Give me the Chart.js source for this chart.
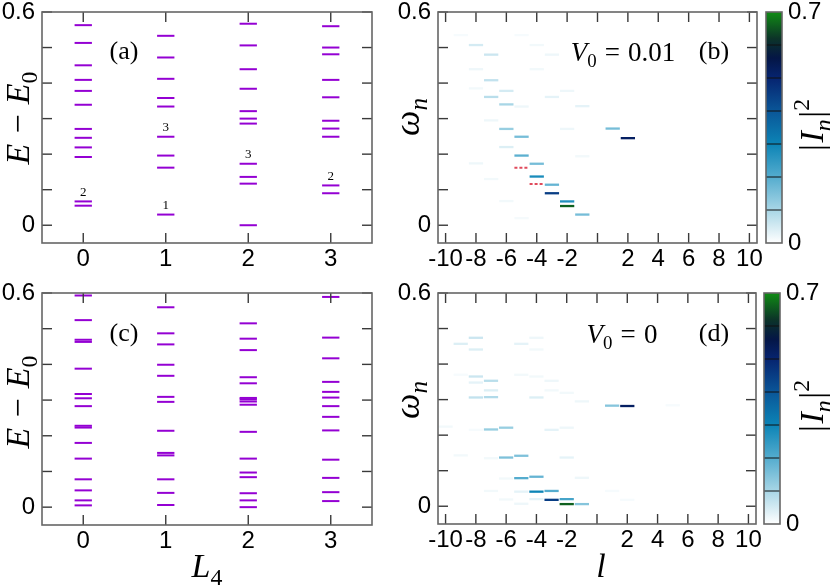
<!DOCTYPE html>
<html>
<head>
<meta charset="utf-8">
<script src="https://cdn.jsdelivr.net/npm/chart.js@4"></script>
<style>
  html, body { margin: 0; padding: 0; background: #fff; }
  #wrap { position: relative; width: 830px; height: 585px; overflow: hidden; background: #fff; }
  canvas { position: absolute; }
</style>
</head>
<body>
<div id="wrap">
  <canvas id="pa"></canvas>
  <canvas id="pb"></canvas>
  <canvas id="cb1"></canvas>
  <canvas id="pc"></canvas>
  <canvas id="pd"></canvas>
  <canvas id="cb2"></canvas>
</div>
<script>
// --- panel (a): E - E0 per L4, V0 = 0.01
const levelsA_L0 = [0.563, 0.513, 0.450, 0.409, 0.378, 0.339, 0.271, 0.246, 0.219, 0.192, 0.067, 0.055];
const levelsA_L1 = [0.533, 0.472, 0.412, 0.358, 0.334, 0.249, 0.196, 0.162, 0.030];
const levelsA_L2 = [0.567, 0.506, 0.439, 0.384, 0.321, 0.300, 0.286, 0.173, 0.136, 0.117, 0.000];
const levelsA_L3 = [0.560, 0.500, 0.481, 0.409, 0.360, 0.294, 0.272, 0.249, 0.112, 0.090];
// degeneracy labels written above some levels in (a)
const degL4 = [0, 1, 1, 2, 3];
const degE = [0.067, 0.030, 0.249, 0.173, 0.112];
const degText = ["2", "1", "3", "3", "2"];

// --- panel (c): V0 = 0
const levelsC_L0 = [0.593, 0.524, 0.469, 0.463, 0.388, 0.317, 0.305, 0.283, 0.228, 0.223, 0.180, 0.136, 0.078, 0.047, 0.019, 0.005];
const levelsC_L1 = [0.560, 0.487, 0.456, 0.399, 0.368, 0.309, 0.295, 0.214, 0.152, 0.145, 0.078, 0.040, 0.006];
const levelsC_L2 = [0.515, 0.472, 0.440, 0.364, 0.347, 0.306, 0.302, 0.296, 0.287, 0.211, 0.136, 0.097, 0.084, 0.039, 0.019, 0.000];
const levelsC_L3 = [0.589, 0.475, 0.417, 0.351, 0.323, 0.307, 0.283, 0.253, 0.215, 0.133, 0.082, 0.042, 0.017];

// --- panel (b): omega_n vs l, colour = |I_n|^2, V0 = 0.01
const lB = [-9, -8, -7, -8, -7, -8, -6, -7, -6, -5, -7, -6, -5, -6, -5, -8, -4, -4, -7, -6, -5,
            -5, -4, -4, -3, -2, -3, -1, -2, 1, 2, -1, -3, -3, -2, -2, -1];
const wB = [0.535, 0.507, 0.480, 0.439, 0.408, 0.385, 0.378, 0.361, 0.340, 0.334, 0.295, 0.271, 0.249, 0.220, 0.196, 0.174, 0.173, 0.137, 0.130, 0.068, 0.020,
            0.535, 0.507, 0.439, 0.480, 0.378, 0.361, 0.335, 0.271, 0.272, 0.245, 0.194, 0.114, 0.090, 0.067, 0.054, 0.030];
const iB = [0.010, 0.050, 0.060, 0.020, 0.070, 0.015, 0.050, 0.080, 0.100, 0.020, 0.020, 0.120, 0.160, 0.040, 0.190, 0.020, 0.160, 0.280, 0.015, 0.015, 0.012,
            0.010, 0.015, 0.015, 0.020, 0.020, 0.030, 0.030, 0.020, 0.160, 0.520, 0.015, 0.180, 0.450, 0.270, 0.660, 0.160];
// red dashed levels in (b)
const redL = [-5, -4];
const redW = [0.162, 0.116];

// --- panel (d): V0 = 0
const lD = [-10, -9, -8, -8, -8, -8, -7, -7, -8, -7, -9, -7, -6, -8, -9, -7, -6, -5, -6, -5, -4, -5, -4, -7, -6, -5, -4,
            -5, -4, -4, -5, -4, -4, -3, -3, -2, -1, 1, 2, -3, -2, -2, -1, -3, -3, -2, -2, -1, 1, 2, 5];
const wD = [0.224, 0.457, 0.474, 0.441, 0.365, 0.348, 0.353, 0.326, 0.306, 0.307, 0.370, 0.216, 0.221, 0.215, 0.143, 0.135, 0.137, 0.142, 0.078, 0.079, 0.083, 0.041, 0.041, 0.043, 0.019, 0.007, 0.020,
            0.457, 0.474, 0.441, 0.370, 0.365, 0.306, 0.353, 0.326, 0.319, 0.295, 0.283, 0.282, 0.215, 0.221, 0.137, 0.080, 0.043, 0.018, 0.020, 0.006, 0.006, 0.043, 0.018, 0.284];
const iD = [0.015, 0.040, 0.060, 0.040, 0.060, 0.030, 0.080, 0.040, 0.070, 0.090, 0.010, 0.120, 0.120, 0.010, 0.015, 0.015, 0.150, 0.150, 0.015, 0.200, 0.180, 0.030, 0.300, 0.015, 0.015, 0.020, 0.030,
            0.030, 0.020, 0.015, 0.015, 0.015, 0.040, 0.020, 0.015, 0.015, 0.020, 0.140, 0.520, 0.030, 0.020, 0.030, 0.020, 0.200, 0.450, 0.220, 0.660, 0.140, 0.010, 0.010, 0.010];

// --- axes
const levelXTicks = [0, 1, 2, 3];
const energyYTicks = [0, 0.1, 0.2, 0.3, 0.4, 0.5, 0.6];
const energyYLabels = [0, 0.6];
const lXTicks = [-10, -8, -6, -4, -2, 0, 2, 4, 6, 8, 10];
const lXLabels = [-10, -8, -6, -4, -2, 2, 4, 6, 8, 10];
const cbBands = [0.1, 0.2, 0.3, 0.4, 0.5, 0.6];
const cbLabels = [0, 0.7];

// colormap for |I_n|^2
const cmapStops = [
  [0.00, [255, 255, 255]],
  [0.10, [168, 214, 230]],
  [0.20, [84, 172, 206]],
  [0.30, [12, 132, 182]],
  [0.40, [10, 86, 152]],
  [0.50, [6, 36, 112]],
  [0.56, [4, 22, 70]],
  [0.62, [12, 52, 40]],
  [0.70, [16, 140, 20]],
];

function cmap(v) {
  if (v <= cmapStops[0][0]) return `rgb(${cmapStops[0][1].join(",")})`;
  for (let k = 1; k < cmapStops.length; k++) {
    const [v1, c1] = cmapStops[k];
    const [v0, c0] = cmapStops[k - 1];
    if (v <= v1) {
      const t = (v - v0) / (v1 - v0);
      const c = c0.map((a, j) => Math.round(a + (c1[j] - a) * t));
      return `rgb(${c.join(",")})`;
    }
  }
  return `rgb(${cmapStops[cmapStops.length - 1][1].join(",")})`;
}

const PURPLE = "#9400d3";
const LEVEL_HW = 0.105;
const SEG_HW = 0.47;
const tickFont = { family: '"Liberation Sans", Arial, Helvetica, sans-serif', size: 24 };
const SERIF = '"Liberation Serif", "DejaVu Serif", serif';

// --- math-like text
function drawMath(ctx, parts, x, y, size, rot) {
  ctx.save();
  ctx.translate(x, y);
  ctx.rotate((rot || 0) * Math.PI / 180);
  ctx.fillStyle = "#000";
  ctx.textBaseline = "alphabetic";
  const fontOf = (p) => (p.i ? "italic " : "") + (p.s ? size * 0.7 : size) + "px " + SERIF;
  let w = 0;
  parts.forEach((p) => {
    if (p.g) { w += p.g * size; return; }
    ctx.font = fontOf(p);
    w += ctx.measureText(p.t).width;
  });
  let cx = -w / 2;
  parts.forEach((p) => {
    if (p.g) { cx += p.g * size; return; }
    ctx.font = fontOf(p);
    let dy = 0;
    if (p.s === "sub") dy = size * 0.22;
    if (p.s === "sup") dy = -size * 0.42;
    ctx.fillText(p.t, cx, size * 0.33 + dy);
    cx += ctx.measureText(p.t).width;
  });
  ctx.restore();
}

const T_EE0 = [{ t: "E", i: 1 }, { g: 0.3 }, { t: "\u2212" }, { g: 0.3 }, { t: "E", i: 1 }, { t: "0", s: "sub" }];
const T_OMEGA = [{ t: "\u03c9", i: 1 }, { t: "n", i: 1, s: "sub" }];
const T_IN2 = [{ t: "|" }, { g: 0.05 }, { t: "I", i: 1 }, { t: "n", i: 1, s: "sub" }, { g: 0.05 }, { t: "|" }, { t: "2", s: "sup" }];
const T_L4 = [{ t: "L", i: 1 }, { t: "4", s: "sub" }];
const T_L = [{ t: "l", i: 1 }];
const T_V001 = [{ t: "V", i: 1 }, { t: "0", s: "sub" }, { g: 0.3 }, { t: "=" }, { g: 0.3 }, { t: "0.01" }];
const T_V0 = [{ t: "V", i: 1 }, { t: "0", s: "sub" }, { g: 0.3 }, { t: "=" }, { g: 0.3 }, { t: "0" }];

// --- plugins
const framePlugin = {
  id: "frame",
  afterDatasetsDraw(chart, args, opts) {
    const { ctx, chartArea: a, scales } = chart;
    ctx.save();
    const line = (x1, y1, x2, y2) => { ctx.beginPath(); ctx.moveTo(x1, y1); ctx.lineTo(x2, y2); ctx.stroke(); };
    ctx.strokeStyle = "#3a3a3a";
    ctx.lineWidth = 1.4;
    (opts.xTicks || []).forEach((v) => {
      const px = scales.x.getPixelForValue(v);
      line(px, a.bottom, px, a.bottom - 10);
      line(px, a.top, px, a.top + 10);
    });
    (opts.yTicks || []).forEach((v) => {
      const py = scales.y.getPixelForValue(v);
      line(a.left, py, a.left + 10, py);
      line(a.right, py, a.right - 10, py);
    });
    ctx.strokeStyle = "#111";
    ctx.lineWidth = 1;
    (opts.bands || []).forEach((v) => {
      const py = scales.y.getPixelForValue(v);
      line(a.left, py, a.right, py);
    });
    ctx.strokeStyle = "#666";
    ctx.lineWidth = 1.6;
    ctx.strokeRect(a.left, a.top, a.right - a.left, a.bottom - a.top);
    ctx.restore();
  },
};

const textPlugin = {
  id: "texts",
  afterDraw(chart, args, opts) {
    const ctx = chart.ctx;
    const box = opts.box;
    (opts.items || []).forEach((it) => {
      drawMath(ctx, it.parts, it.x - box.left, it.y - box.top, it.size, it.rot);
    });
    if (opts.deg) {
      const { scales } = chart;
      ctx.save();
      ctx.font = "13px " + SERIF;
      ctx.fillStyle = "#000";
      ctx.textAlign = "center";
      ctx.textBaseline = "middle";
      opts.deg.l.forEach((l, k) => {
        ctx.fillText(opts.deg.t[k], scales.x.getPixelForValue(l), scales.y.getPixelForValue(opts.deg.e[k]) - 9);
      });
      ctx.restore();
    }
  },
};

function placeCanvas(id, box) {
  const c = document.getElementById(id);
  c.width = box.width;
  c.height = box.height;
  c.style.left = box.left + "px";
  c.style.top = box.top + "px";
  c.style.width = box.width + "px";
  c.style.height = box.height + "px";
  return c;
}

function panelOptions(box, area, xRange, yRange, xLabels, yLabels, frame, texts) {
  return {
    responsive: false,
    animation: false,
    devicePixelRatio: 1,
    layout: { padding: { left: 0, top: area.T - box.top, right: box.left + box.width - area.R, bottom: 0 } },
    plugins: { legend: { display: false }, tooltip: { enabled: false }, frame: frame, texts: texts },
    scales: {
      x: {
        type: "linear", min: xRange[0], max: xRange[1],
        grid: { display: false, drawTicks: false }, border: { display: false },
        afterBuildTicks: (s) => { s.ticks = xLabels.map((v) => ({ value: v })); },
        afterFit: (s) => { s.height = box.top + box.height - area.B; },
        ticks: { autoSkip: false, maxRotation: 0, minRotation: 0, padding: 2, color: "#000", font: tickFont,
                 callback: (v) => String(v) },
      },
      y: {
        type: "linear", min: yRange[0], max: yRange[1],
        grid: { display: false, drawTicks: false }, border: { display: false },
        afterBuildTicks: (s) => { s.ticks = yLabels.map((v) => ({ value: v })); },
        afterFit: (s) => { s.width = area.L - box.left; },
        ticks: { autoSkip: false, padding: 7, color: "#000", font: tickFont, callback: (v) => String(v) },
      },
    },
  };
}

function levelDatasets(columns) {
  const sets = [];
  columns.forEach((levels, k) => {
    const L = levelXTicks[k];
    levels.forEach((e) => {
      sets.push({
        data: [{ x: L - LEVEL_HW, y: e }, { x: L + LEVEL_HW, y: e }],
        showLine: true, pointRadius: 0, borderWidth: 2, borderColor: PURPLE,
      });
    });
  });
  return sets;
}

function segmentDatasets(ls, ws, is) {
  const order = ls.map((_, i) => i).sort((a, b) => is[b] - is[a]);
  return order.map((i) => ({
    data: [{ x: ls[i] - SEG_HW, y: ws[i] }, { x: ls[i] + SEG_HW, y: ws[i] }],
    showLine: true, pointRadius: 0, borderWidth: 2.3, borderColor: cmap(is[i]),
  }));
}

function redDatasets() {
  return redL.map((l, k) => ({
    data: [{ x: l - SEG_HW, y: redW[k] }, { x: l + SEG_HW, y: redW[k] }],
    showLine: true, pointRadius: 0, borderWidth: 2, borderColor: "#e04a5c", borderDash: [3, 2],
  }));
}

function colorbarChart(id, box, area, texts) {
  placeCanvas(id, box);
  return new Chart(document.getElementById(id), {
    type: "bar",
    data: {
      labels: [""],
      datasets: [{
        data: [[0, 0.7]],
        barPercentage: 1, categoryPercentage: 1, borderWidth: 0,
        backgroundColor: (c) => {
          const ch = c.chart;
          if (!ch.chartArea) return "#fff";
          const ys = ch.scales.y;
          const g = ch.ctx.createLinearGradient(0, ys.getPixelForValue(0), 0, ys.getPixelForValue(0.7));
          cmapStops.forEach(([v, rgb]) => g.addColorStop(v / 0.7, `rgb(${rgb.join(",")})`));
          return g;
        },
      }],
    },
    options: {
      responsive: false, animation: false, devicePixelRatio: 1,
      layout: { padding: { left: area.L - box.left, top: area.T - box.top, right: 0, bottom: box.top + box.height - area.B } },
      plugins: { legend: { display: false }, tooltip: { enabled: false }, frame: { bands: cbBands }, texts: texts },
      scales: {
        x: { display: false },
        y: {
          position: "right", min: 0, max: 0.7,
          grid: { display: false, drawTicks: false }, border: { display: false },
          afterBuildTicks: (s) => { s.ticks = cbLabels.map((v) => ({ value: v })); },
          afterFit: (s) => { s.width = box.left + box.width - area.R; },
          ticks: { autoSkip: false, padding: 6, color: "#000", font: tickFont, callback: (v) => String(v) },
        },
      },
    },
    plugins: [framePlugin, textPlugin],
  });
}

// --- layout (page pixels)
const boxA = { left: 0, top: -20, width: 400, height: 320 };
const areaA = { L: 42, T: 12, R: 372, B: 243 };
const boxB = { left: 380, top: -20, width: 410, height: 320 };
const areaB = { L: 438, T: 12, R: 757, B: 243 };
const boxCB1 = { left: 750, top: -20, width: 80, height: 320 };
const areaCB1 = { L: 766, T: 12, R: 782, B: 243 };
const boxC = { left: 0, top: 270, width: 400, height: 315 };
const areaC = { L: 42, T: 293, R: 372, B: 525 };
const boxD = { left: 380, top: 270, width: 410, height: 315 };
const areaD = { L: 438, T: 293, R: 756, B: 524 };
const boxCB2 = { left: 750, top: 270, width: 80, height: 315 };
const areaCB2 = { L: 764, T: 293, R: 780, B: 524 };

// (a)
placeCanvas("pa", boxA);
new Chart(document.getElementById("pa"), {
  type: "scatter",
  data: { datasets: levelDatasets([levelsA_L0, levelsA_L1, levelsA_L2, levelsA_L3]) },
  options: panelOptions(boxA, areaA, [-0.5, 3.5], [-0.05, 0.6], levelXTicks, energyYLabels,
    { xTicks: levelXTicks, yTicks: energyYTicks },
    { box: boxA,
      items: [
        { parts: T_EE0, x: 18, y: 118, size: 34, rot: -90 },
        { parts: [{ t: "(a)" }], x: 124, y: 50, size: 26 },
      ],
      deg: { l: degL4, e: degE, t: degText } }),
  plugins: [framePlugin, textPlugin],
});

// (b)
placeCanvas("pb", boxB);
new Chart(document.getElementById("pb"), {
  type: "scatter",
  data: { datasets: segmentDatasets(lB, wB, iB).concat(redDatasets()) },
  options: panelOptions(boxB, areaB, [-10.5, 10.5], [-0.05, 0.6], lXLabels, energyYLabels,
    { xTicks: lXTicks, yTicks: energyYTicks },
    { box: boxB,
      items: [
        { parts: T_OMEGA, x: 407, y: 117, size: 36, rot: -90 },
        { parts: T_V001, x: 623, y: 52, size: 27 },
        { parts: [{ t: "(b)" }], x: 714, y: 50, size: 26 },
      ] }),
  plugins: [framePlugin, textPlugin],
});

colorbarChart("cb1", boxCB1, areaCB1, { box: boxCB1, items: [{ parts: T_IN2, x: 812, y: 125, size: 34, rot: -90 }] });

// (c)
placeCanvas("pc", boxC);
new Chart(document.getElementById("pc"), {
  type: "scatter",
  data: { datasets: levelDatasets([levelsC_L0, levelsC_L1, levelsC_L2, levelsC_L3]) },
  options: panelOptions(boxC, areaC, [-0.5, 3.5], [-0.05, 0.6], levelXTicks, energyYLabels,
    { xTicks: levelXTicks, yTicks: energyYTicks },
    { box: boxC,
      items: [
        { parts: T_EE0, x: 18, y: 402, size: 34, rot: -90 },
        { parts: [{ t: "(c)" }], x: 124, y: 332, size: 26 },
        { parts: T_L4, x: 207, y: 566, size: 34 },
      ] }),
  plugins: [framePlugin, textPlugin],
});

// (d)
placeCanvas("pd", boxD);
new Chart(document.getElementById("pd"), {
  type: "scatter",
  data: { datasets: segmentDatasets(lD, wD, iD) },
  options: panelOptions(boxD, areaD, [-10.5, 10.5], [-0.05, 0.6], lXLabels, energyYLabels,
    { xTicks: lXTicks, yTicks: energyYTicks },
    { box: boxD,
      items: [
        { parts: T_OMEGA, x: 407, y: 400, size: 36, rot: -90 },
        { parts: T_V0, x: 622, y: 334, size: 27 },
        { parts: [{ t: "(d)" }], x: 714, y: 332, size: 26 },
        { parts: T_L, x: 601, y: 566, size: 34 },
      ] }),
  plugins: [framePlugin, textPlugin],
});

colorbarChart("cb2", boxCB2, areaCB2, { box: boxCB2, items: [{ parts: T_IN2, x: 812, y: 406, size: 34, rot: -90 }] });
</script>
</body>
</html>
